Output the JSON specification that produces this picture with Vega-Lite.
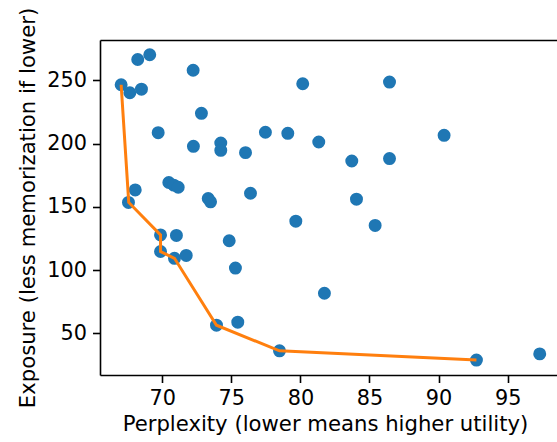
{
  "$schema": "https://vega.github.io/schema/vega-lite/v6.json",
  "width": 457,
  "height": 335,
  "autosize": {"type": "none"},
  "padding": {"left": 100, "top": 40, "right": 0, "bottom": 67},
  "background": "white",
  "view": {"stroke": null},
  "config": {
    "font": "DejaVu Sans",
    "axis": {
      "labelFont": "DejaVu Sans",
      "titleFont": "DejaVu Sans",
      "labelFontSize": 20.8,
      "titleFontSize": 21.2,
      "titleFontWeight": "normal",
      "labelColor": "black",
      "titleColor": "black",
      "domainColor": "black",
      "tickColor": "black",
      "domainWidth": 1.6,
      "tickWidth": 1.6,
      "tickSize": 7.5,
      "labelPadding": 6,
      "grid": false
    }
  },
  "datasets": {
    "points": [
      {"perplexity": 67.03, "exposure": 246.6},
      {"perplexity": 67.66, "exposure": 240.3},
      {"perplexity": 68.5, "exposure": 243.1},
      {"perplexity": 68.23, "exposure": 266.6},
      {"perplexity": 69.1, "exposure": 270.3},
      {"perplexity": 72.24, "exposure": 258.1},
      {"perplexity": 80.17, "exposure": 247.4},
      {"perplexity": 86.45, "exposure": 248.7},
      {"perplexity": 72.84, "exposure": 224.0},
      {"perplexity": 69.71, "exposure": 208.7},
      {"perplexity": 72.26, "exposure": 197.9},
      {"perplexity": 74.24, "exposure": 200.5},
      {"perplexity": 74.24, "exposure": 194.7},
      {"perplexity": 76.03, "exposure": 192.9},
      {"perplexity": 77.47, "exposure": 209.0},
      {"perplexity": 79.09, "exposure": 208.2},
      {"perplexity": 81.33, "exposure": 201.3},
      {"perplexity": 90.4, "exposure": 206.6},
      {"perplexity": 83.72, "exposure": 186.3},
      {"perplexity": 86.45, "exposure": 188.2},
      {"perplexity": 68.05, "exposure": 163.4},
      {"perplexity": 67.56, "exposure": 153.5},
      {"perplexity": 70.48, "exposure": 169.3},
      {"perplexity": 70.84, "exposure": 167.2},
      {"perplexity": 71.16, "exposure": 165.5},
      {"perplexity": 73.33, "exposure": 156.6},
      {"perplexity": 73.5, "exposure": 154.0},
      {"perplexity": 76.39, "exposure": 160.8},
      {"perplexity": 84.06, "exposure": 156.1},
      {"perplexity": 85.41, "exposure": 135.3},
      {"perplexity": 79.67, "exposure": 138.7},
      {"perplexity": 69.88, "exposure": 127.8},
      {"perplexity": 71.03, "exposure": 127.4},
      {"perplexity": 74.85, "exposure": 123.2},
      {"perplexity": 69.88, "exposure": 114.7},
      {"perplexity": 70.89, "exposure": 109.3},
      {"perplexity": 71.74, "exposure": 111.6},
      {"perplexity": 75.3, "exposure": 101.6},
      {"perplexity": 81.74, "exposure": 81.7},
      {"perplexity": 73.93, "exposure": 56.4},
      {"perplexity": 75.47, "exposure": 58.8},
      {"perplexity": 78.49, "exposure": 36.1},
      {"perplexity": 92.74, "exposure": 28.8},
      {"perplexity": 97.32, "exposure": 33.7}
    ],
    "frontier": [
      {"step": 1, "perplexity": 67.03, "exposure": 246.6},
      {"step": 2, "perplexity": 67.58, "exposure": 153.5},
      {"step": 3, "perplexity": 69.88, "exposure": 127.8},
      {"step": 4, "perplexity": 69.88, "exposure": 114.7},
      {"step": 5, "perplexity": 70.89, "exposure": 109.3},
      {"step": 6, "perplexity": 73.93, "exposure": 56.4},
      {"step": 7, "perplexity": 78.49, "exposure": 36.1},
      {"step": 8, "perplexity": 92.74, "exposure": 28.8}
    ]
  },
  "layer": [
    {
      "data": {"name": "points"},
      "mark": {"type": "point", "shape": "circle", "filled": true, "size": 168, "color": "#1f77b4", "opacity": 1},
      "encoding": {
        "x": {
          "field": "perplexity", "type": "quantitative",
          "scale": {"domain": [65.5, 98.57], "nice": false, "zero": false},
          "axis": {"values": [70, 75, 80, 85, 90, 95], "title": "Perplexity (lower means higher utility)", "titlePadding": 5, "titleX": 225}
        },
        "y": {
          "field": "exposure", "type": "quantitative",
          "scale": {"domain": [17, 282], "nice": false, "zero": false},
          "axis": {"values": [50, 100, 150, 200, 250], "title": "Exposure (less memorization if lower)", "titlePadding": 8}
        }
      }
    },
    {
      "data": {"name": "frontier"},
      "mark": {"type": "line", "color": "#ff7f0e", "strokeWidth": 3},
      "encoding": {
        "x": {
          "field": "perplexity", "type": "quantitative",
          "axis": {"orient": "top", "labels": false, "ticks": false, "title": null}
        },
        "y": {"field": "exposure", "type": "quantitative"},
        "order": {"field": "step", "type": "quantitative"}
      }
    }
  ],
  "resolve": {"axis": {"x": "independent"}}
}
